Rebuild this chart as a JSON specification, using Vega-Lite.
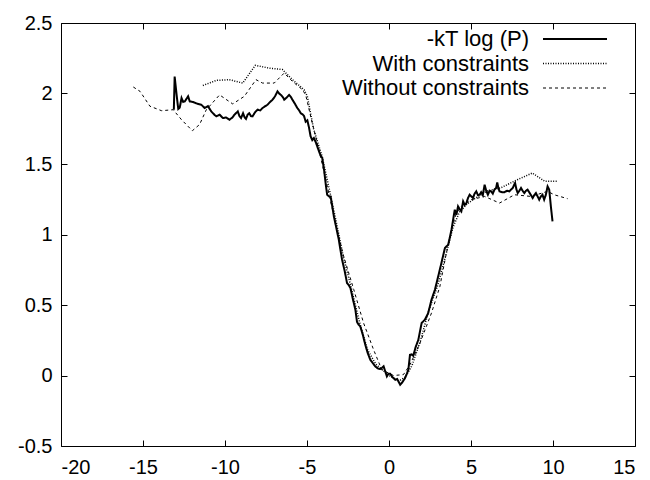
{
"$schema": "https://vega.github.io/schema/vega-lite/v6.json",
"width": 574, "height": 423,
"autosize": "none",
"padding": {"left": 61, "top": 23, "right": 15, "bottom": 34},
"background": "white",
"config": {
  "view": {"stroke": "black", "strokeWidth": 1},
  "font": "Liberation Sans",
  "axis": {"grid": false, "domain": false, "tickColor": "black", "tickSize": -6, "tickWidth": 1, "labelFontSize": 20, "labelColor": "black", "title": null, "labelPadding": 15, "labelExpr": "'' + datum.value"}
},
"datasets": {
 "pts": [
{"s":"-kT log (P)","x":-13.12,"y":1.885},{"s":"-kT log (P)","x":-13.07,"y":2.12},{"s":"-kT log (P)","x":-12.95,"y":1.99},{"s":"-kT log (P)","x":-12.85,"y":1.89},{"s":"-kT log (P)","x":-12.76,"y":1.9},{"s":"-kT log (P)","x":-12.65,"y":1.968},{"s":"-kT log (P)","x":-12.55,"y":1.94},{"s":"-kT log (P)","x":-12.45,"y":1.944},{"s":"-kT log (P)","x":-12.25,"y":1.98},{"s":"-kT log (P)","x":-12.15,"y":1.944},{"s":"-kT log (P)","x":-11.95,"y":1.94},{"s":"-kT log (P)","x":-11.75,"y":1.93},{"s":"-kT log (P)","x":-11.44,"y":1.92},{"s":"-kT log (P)","x":-11.24,"y":1.897},{"s":"-kT log (P)","x":-11.04,"y":1.91},{"s":"-kT log (P)","x":-10.84,"y":1.873},{"s":"-kT log (P)","x":-10.65,"y":1.85},{"s":"-kT log (P)","x":-10.53,"y":1.838},{"s":"-kT log (P)","x":-10.33,"y":1.85},{"s":"-kT log (P)","x":-10.13,"y":1.826},{"s":"-kT log (P)","x":-9.93,"y":1.83},{"s":"-kT log (P)","x":-9.73,"y":1.814},{"s":"-kT log (P)","x":-9.55,"y":1.83},{"s":"-kT log (P)","x":-9.42,"y":1.85},{"s":"-kT log (P)","x":-9.22,"y":1.873},{"s":"-kT log (P)","x":-9.12,"y":1.84},{"s":"-kT log (P)","x":-9.02,"y":1.826},{"s":"-kT log (P)","x":-8.9,"y":1.86},{"s":"-kT log (P)","x":-8.8,"y":1.83},{"s":"-kT log (P)","x":-8.72,"y":1.82},{"s":"-kT log (P)","x":-8.62,"y":1.85},{"s":"-kT log (P)","x":-8.52,"y":1.86},{"s":"-kT log (P)","x":-8.42,"y":1.84},{"s":"-kT log (P)","x":-8.32,"y":1.838},{"s":"-kT log (P)","x":-8.15,"y":1.87},{"s":"-kT log (P)","x":-8.01,"y":1.885},{"s":"-kT log (P)","x":-7.85,"y":1.88},{"s":"-kT log (P)","x":-7.71,"y":1.897},{"s":"-kT log (P)","x":-7.55,"y":1.91},{"s":"-kT log (P)","x":-7.41,"y":1.92},{"s":"-kT log (P)","x":-7.25,"y":1.94},{"s":"-kT log (P)","x":-7.1,"y":1.956},{"s":"-kT log (P)","x":-6.95,"y":1.98},{"s":"-kT log (P)","x":-6.8,"y":2.015},{"s":"-kT log (P)","x":-6.7,"y":2.0},{"s":"-kT log (P)","x":-6.59,"y":1.99},{"s":"-kT log (P)","x":-6.45,"y":1.97},{"s":"-kT log (P)","x":-6.39,"y":1.956},{"s":"-kT log (P)","x":-6.25,"y":1.97},{"s":"-kT log (P)","x":-6.09,"y":1.99},{"s":"-kT log (P)","x":-5.98,"y":1.975},{"s":"-kT log (P)","x":-5.89,"y":1.956},{"s":"-kT log (P)","x":-5.75,"y":1.93},{"s":"-kT log (P)","x":-5.59,"y":1.897},{"s":"-kT log (P)","x":-5.48,"y":1.88},{"s":"-kT log (P)","x":-5.38,"y":1.86},{"s":"-kT log (P)","x":-5.25,"y":1.85},{"s":"-kT log (P)","x":-5.18,"y":1.84},{"s":"-kT log (P)","x":-5.08,"y":1.8},{"s":"-kT log (P)","x":-4.98,"y":1.81},{"s":"-kT log (P)","x":-4.88,"y":1.76},{"s":"-kT log (P)","x":-4.78,"y":1.696},{"s":"-kT log (P)","x":-4.68,"y":1.67},{"s":"-kT log (P)","x":-4.58,"y":1.684},{"s":"-kT log (P)","x":-4.45,"y":1.65},{"s":"-kT log (P)","x":-4.3,"y":1.6},{"s":"-kT log (P)","x":-4.17,"y":1.56},{"s":"-kT log (P)","x":-4.07,"y":1.543},{"s":"-kT log (P)","x":-3.95,"y":1.45},{"s":"-kT log (P)","x":-3.85,"y":1.35},{"s":"-kT log (P)","x":-3.77,"y":1.282},{"s":"-kT log (P)","x":-3.65,"y":1.27},{"s":"-kT log (P)","x":-3.56,"y":1.27},{"s":"-kT log (P)","x":-3.46,"y":1.2},{"s":"-kT log (P)","x":-3.36,"y":1.128},{"s":"-kT log (P)","x":-3.2,"y":1.04},{"s":"-kT log (P)","x":-3.06,"y":0.963},{"s":"-kT log (P)","x":-2.96,"y":0.89},{"s":"-kT log (P)","x":-2.86,"y":0.821},{"s":"-kT log (P)","x":-2.7,"y":0.74},{"s":"-kT log (P)","x":-2.56,"y":0.656},{"s":"-kT log (P)","x":-2.45,"y":0.64},{"s":"-kT log (P)","x":-2.35,"y":0.62},{"s":"-kT log (P)","x":-2.2,"y":0.54},{"s":"-kT log (P)","x":-2.05,"y":0.467},{"s":"-kT log (P)","x":-1.95,"y":0.38},{"s":"-kT log (P)","x":-1.85,"y":0.36},{"s":"-kT log (P)","x":-1.75,"y":0.348},{"s":"-kT log (P)","x":-1.6,"y":0.29},{"s":"-kT log (P)","x":-1.45,"y":0.22},{"s":"-kT log (P)","x":-1.3,"y":0.16},{"s":"-kT log (P)","x":-1.14,"y":0.112},{"s":"-kT log (P)","x":-1.0,"y":0.09},{"s":"-kT log (P)","x":-0.84,"y":0.065},{"s":"-kT log (P)","x":-0.68,"y":0.05},{"s":"-kT log (P)","x":-0.53,"y":0.046},{"s":"-kT log (P)","x":-0.43,"y":0.055},{"s":"-kT log (P)","x":-0.33,"y":0.065},{"s":"-kT log (P)","x":-0.23,"y":0.03},{"s":"-kT log (P)","x":-0.13,"y":-0.006},{"s":"-kT log (P)","x":-0.03,"y":0.013},{"s":"-kT log (P)","x":0.07,"y":0.013},{"s":"-kT log (P)","x":0.2,"y":-0.01},{"s":"-kT log (P)","x":0.38,"y":-0.03},{"s":"-kT log (P)","x":0.5,"y":-0.025},{"s":"-kT log (P)","x":0.68,"y":-0.065},{"s":"-kT log (P)","x":0.8,"y":-0.05},{"s":"-kT log (P)","x":0.98,"y":-0.018},{"s":"-kT log (P)","x":1.08,"y":0.01},{"s":"-kT log (P)","x":1.18,"y":0.041},{"s":"-kT log (P)","x":1.28,"y":0.147},{"s":"-kT log (P)","x":1.38,"y":0.15},{"s":"-kT log (P)","x":1.48,"y":0.14},{"s":"-kT log (P)","x":1.62,"y":0.2},{"s":"-kT log (P)","x":1.79,"y":0.254},{"s":"-kT log (P)","x":1.99,"y":0.372},{"s":"-kT log (P)","x":2.19,"y":0.396},{"s":"-kT log (P)","x":2.39,"y":0.443},{"s":"-kT log (P)","x":2.59,"y":0.537},{"s":"-kT log (P)","x":2.8,"y":0.608},{"s":"-kT log (P)","x":3.0,"y":0.703},{"s":"-kT log (P)","x":3.2,"y":0.8},{"s":"-kT log (P)","x":3.41,"y":0.904},{"s":"-kT log (P)","x":3.61,"y":0.928},{"s":"-kT log (P)","x":3.71,"y":0.98},{"s":"-kT log (P)","x":3.81,"y":1.034},{"s":"-kT log (P)","x":4.01,"y":1.176},{"s":"-kT log (P)","x":4.11,"y":1.14},{"s":"-kT log (P)","x":4.21,"y":1.2},{"s":"-kT log (P)","x":4.31,"y":1.18},{"s":"-kT log (P)","x":4.41,"y":1.164},{"s":"-kT log (P)","x":4.52,"y":1.235},{"s":"-kT log (P)","x":4.62,"y":1.21},{"s":"-kT log (P)","x":4.72,"y":1.223},{"s":"-kT log (P)","x":4.82,"y":1.26},{"s":"-kT log (P)","x":4.92,"y":1.282},{"s":"-kT log (P)","x":5.02,"y":1.27},{"s":"-kT log (P)","x":5.12,"y":1.259},{"s":"-kT log (P)","x":5.22,"y":1.29},{"s":"-kT log (P)","x":5.32,"y":1.306},{"s":"-kT log (P)","x":5.42,"y":1.28},{"s":"-kT log (P)","x":5.52,"y":1.282},{"s":"-kT log (P)","x":5.62,"y":1.3},{"s":"-kT log (P)","x":5.72,"y":1.28},{"s":"-kT log (P)","x":5.83,"y":1.353},{"s":"-kT log (P)","x":5.93,"y":1.31},{"s":"-kT log (P)","x":6.03,"y":1.282},{"s":"-kT log (P)","x":6.13,"y":1.31},{"s":"-kT log (P)","x":6.23,"y":1.306},{"s":"-kT log (P)","x":6.33,"y":1.29},{"s":"-kT log (P)","x":6.43,"y":1.318},{"s":"-kT log (P)","x":6.53,"y":1.33},{"s":"-kT log (P)","x":6.6,"y":1.37},{"s":"-kT log (P)","x":6.67,"y":1.33},{"s":"-kT log (P)","x":6.74,"y":1.306},{"s":"-kT log (P)","x":6.9,"y":1.3},{"s":"-kT log (P)","x":7.04,"y":1.3},{"s":"-kT log (P)","x":7.2,"y":1.31},{"s":"-kT log (P)","x":7.34,"y":1.306},{"s":"-kT log (P)","x":7.45,"y":1.32},{"s":"-kT log (P)","x":7.55,"y":1.33},{"s":"-kT log (P)","x":7.62,"y":1.35},{"s":"-kT log (P)","x":7.69,"y":1.365},{"s":"-kT log (P)","x":7.77,"y":1.32},{"s":"-kT log (P)","x":7.85,"y":1.294},{"s":"-kT log (P)","x":7.95,"y":1.31},{"s":"-kT log (P)","x":8.05,"y":1.33},{"s":"-kT log (P)","x":8.15,"y":1.31},{"s":"-kT log (P)","x":8.25,"y":1.294},{"s":"-kT log (P)","x":8.35,"y":1.31},{"s":"-kT log (P)","x":8.45,"y":1.318},{"s":"-kT log (P)","x":8.6,"y":1.29},{"s":"-kT log (P)","x":8.76,"y":1.259},{"s":"-kT log (P)","x":8.86,"y":1.28},{"s":"-kT log (P)","x":8.96,"y":1.294},{"s":"-kT log (P)","x":9.06,"y":1.27},{"s":"-kT log (P)","x":9.16,"y":1.247},{"s":"-kT log (P)","x":9.26,"y":1.27},{"s":"-kT log (P)","x":9.36,"y":1.282},{"s":"-kT log (P)","x":9.46,"y":1.247},{"s":"-kT log (P)","x":9.56,"y":1.28},{"s":"-kT log (P)","x":9.67,"y":1.341},{"s":"-kT log (P)","x":9.77,"y":1.318},{"s":"-kT log (P)","x":9.87,"y":1.2},{"s":"-kT log (P)","x":9.97,"y":1.093},
{"s":"With constraints","x":-11.35,"y":2.057},{"s":"With constraints","x":-10.53,"y":2.093},{"s":"With constraints","x":-9.73,"y":2.098},{"s":"With constraints","x":-8.92,"y":2.074},{"s":"With constraints","x":-8.15,"y":2.2},{"s":"With constraints","x":-7.3,"y":2.18},{"s":"With constraints","x":-6.5,"y":2.17},{"s":"With constraints","x":-5.89,"y":2.098},{"s":"With constraints","x":-5.18,"y":2.027},{"s":"With constraints","x":-4.98,"y":1.98},{"s":"With constraints","x":-4.6,"y":1.75},{"s":"With constraints","x":-4.07,"y":1.55},{"s":"With constraints","x":-3.6,"y":1.3},{"s":"With constraints","x":-3.2,"y":1.08},{"s":"With constraints","x":-2.8,"y":0.85},{"s":"With constraints","x":-2.3,"y":0.62},{"s":"With constraints","x":-1.8,"y":0.38},{"s":"With constraints","x":-1.3,"y":0.18},{"s":"With constraints","x":-0.8,"y":0.08},{"s":"With constraints","x":-0.3,"y":0.03},{"s":"With constraints","x":0.0,"y":0.0},{"s":"With constraints","x":0.6,"y":-0.04},{"s":"With constraints","x":1.0,"y":-0.01},{"s":"With constraints","x":1.4,"y":0.07},{"s":"With constraints","x":1.9,"y":0.24},{"s":"With constraints","x":2.4,"y":0.45},{"s":"With constraints","x":3.0,"y":0.65},{"s":"With constraints","x":3.5,"y":0.87},{"s":"With constraints","x":3.9,"y":1.05},{"s":"With constraints","x":4.3,"y":1.16},{"s":"With constraints","x":4.8,"y":1.22},{"s":"With constraints","x":5.3,"y":1.26},{"s":"With constraints","x":6.0,"y":1.31},{"s":"With constraints","x":6.8,"y":1.33},{"s":"With constraints","x":7.85,"y":1.39},{"s":"With constraints","x":8.74,"y":1.436},{"s":"With constraints","x":9.5,"y":1.377},{"s":"With constraints","x":10.3,"y":1.377},
{"s":"Without constraints","x":-15.59,"y":2.046},{"s":"Without constraints","x":-15.18,"y":2.015},{"s":"Without constraints","x":-14.58,"y":1.91},{"s":"Without constraints","x":-13.87,"y":1.878},{"s":"Without constraints","x":-13.16,"y":1.885},{"s":"Without constraints","x":-12.65,"y":1.814},{"s":"Without constraints","x":-11.99,"y":1.736},{"s":"Without constraints","x":-11.55,"y":1.78},{"s":"Without constraints","x":-11.14,"y":1.885},{"s":"Without constraints","x":-10.33,"y":1.99},{"s":"Without constraints","x":-9.53,"y":1.926},{"s":"Without constraints","x":-8.82,"y":1.98},{"s":"Without constraints","x":-8.11,"y":2.098},{"s":"Without constraints","x":-7.71,"y":2.074},{"s":"Without constraints","x":-7.0,"y":2.074},{"s":"Without constraints","x":-6.39,"y":2.145},{"s":"Without constraints","x":-5.89,"y":2.086},{"s":"Without constraints","x":-5.28,"y":2.027},{"s":"Without constraints","x":-5.08,"y":1.99},{"s":"Without constraints","x":-4.7,"y":1.8},{"s":"Without constraints","x":-4.27,"y":1.6},{"s":"Without constraints","x":-3.8,"y":1.36},{"s":"Without constraints","x":-3.3,"y":1.1},{"s":"Without constraints","x":-2.8,"y":0.86},{"s":"Without constraints","x":-2.15,"y":0.61},{"s":"Without constraints","x":-1.55,"y":0.372},{"s":"Without constraints","x":-0.94,"y":0.183},{"s":"Without constraints","x":-0.44,"y":0.041},{"s":"Without constraints","x":0.27,"y":0.0},{"s":"Without constraints","x":0.88,"y":0.006},{"s":"Without constraints","x":1.28,"y":0.077},{"s":"Without constraints","x":1.89,"y":0.23},{"s":"Without constraints","x":2.59,"y":0.443},{"s":"Without constraints","x":3.1,"y":0.63},{"s":"Without constraints","x":3.5,"y":0.869},{"s":"Without constraints","x":3.81,"y":1.034},{"s":"Without constraints","x":4.11,"y":1.152},{"s":"Without constraints","x":4.41,"y":1.2},{"s":"Without constraints","x":5.02,"y":1.247},{"s":"Without constraints","x":5.83,"y":1.27},{"s":"Without constraints","x":6.74,"y":1.223},{"s":"Without constraints","x":7.65,"y":1.282},{"s":"Without constraints","x":8.66,"y":1.27},{"s":"Without constraints","x":9.67,"y":1.306},{"s":"Without constraints","x":10.07,"y":1.282},{"s":"Without constraints","x":10.89,"y":1.254}
 ]
},
"data": {"name": "pts"},
"layer": [
 {
  "mark": {"type": "line", "color": "black", "strokeCap": "butt"},
  "encoding": {
   "x": {"field": "x", "type": "quantitative", "scale": {"domain": [-20, 15], "nice": false, "zero": false},
         "axis": {"orient": "bottom", "labelPadding": 17, "values": [-20, -15, -10, -5, 0, 5, 10, 15]}},
   "y": {"field": "y", "type": "quantitative", "scale": {"domain": [-0.5, 2.5], "nice": false, "zero": false},
         "axis": {"orient": "left", "values": [-0.5, 0, 0.5, 1, 1.5, 2, 2.5]}},
   "strokeDash": {"field": "s", "type": "nominal",
     "scale": {"domain": ["-kT log (P)", "With constraints", "Without constraints"], "range": [[1, 0], [1, 1.5], [3, 3]]},
     "legend": {"orient": "none", "legendX": 503, "legendY": 5, "title": null, "symbolType": "M -6.4 0 L 6.4 0", "symbolSize": 100,
       "labelAlign": "right", "labelOffset": -57, "labelFontSize": 22, "labelColor": "black", "labelLimit": 400,
       "symbolStrokeColor": "black", "rowPadding": 2.5, "padding": 0}},
   "strokeWidth": {"field": "s", "type": "nominal",
     "scale": {"domain": ["-kT log (P)", "With constraints", "Without constraints"], "range": [2, 1, 1]},
     "legend": {"orient": "none", "legendX": 503, "legendY": 5, "title": null, "symbolType": "M -6.4 0 L 6.4 0", "symbolSize": 100,
       "labelAlign": "right", "labelOffset": -57, "labelFontSize": 22, "labelColor": "black", "labelLimit": 400,
       "symbolStrokeColor": "black", "rowPadding": 2.5, "padding": 0}}
  }
 },
 {
  "mark": {"type": "point", "opacity": 0},
  "encoding": {
   "x": {"field": "x", "type": "quantitative", "axis": {"orient": "top", "labels": false, "values": [-20, -15, -10, -5, 0, 5, 10, 15]}},
   "y": {"field": "y", "type": "quantitative", "axis": {"orient": "right", "labels": false, "values": [-0.5, 0, 0.5, 1, 1.5, 2, 2.5]}}
  }
 }
],
"resolve": {"axis": {"x": "independent", "y": "independent"}}
}
